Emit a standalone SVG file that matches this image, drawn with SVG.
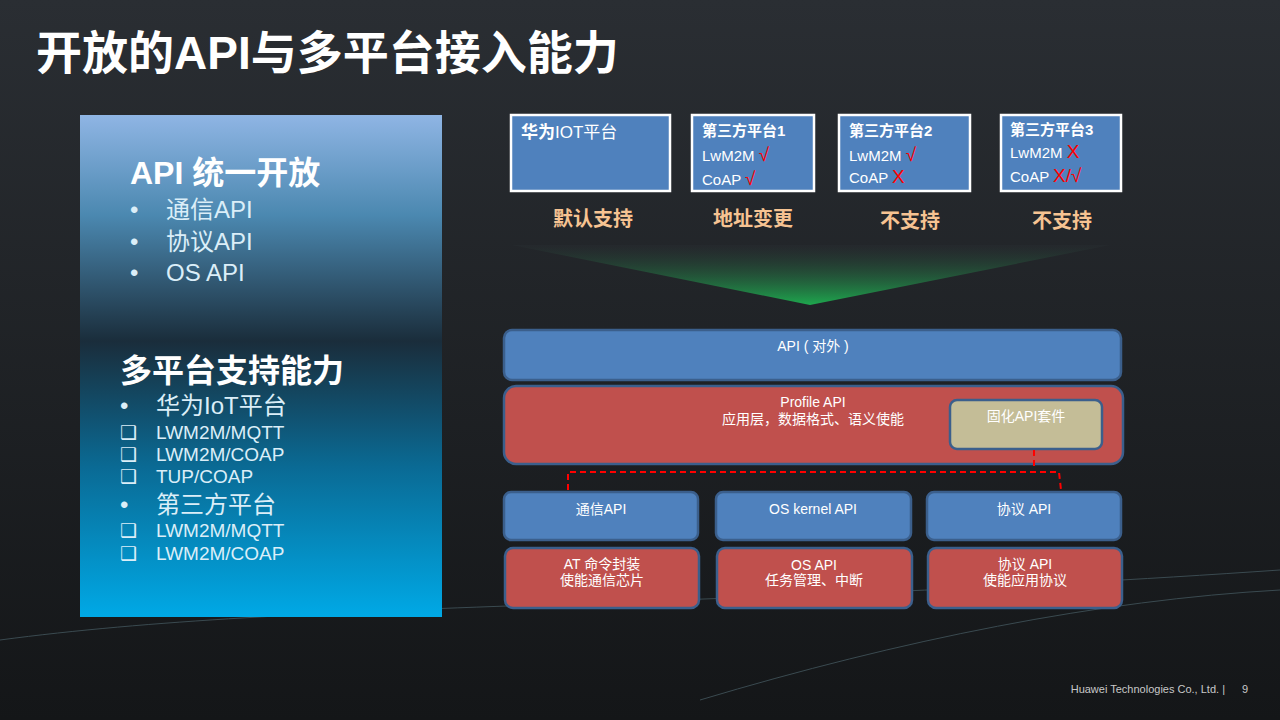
<svg xmlns="http://www.w3.org/2000/svg" width="1280" height="720" viewBox="0 0 1280 720">
<defs>
<linearGradient id="bg" x1="0" y1="0" x2="0" y2="1"><stop offset="0" stop-color="#2a2e33"/><stop offset="1" stop-color="#141618"/></linearGradient>
<linearGradient id="panel" x1="0" y1="0" x2="0" y2="1"><stop offset="0" stop-color="#8fb5e4"/><stop offset="0.2" stop-color="#4b88b0"/><stop offset="0.45" stop-color="#1a2d3b"/><stop offset="0.7" stop-color="#0a6a94"/><stop offset="1" stop-color="#00a9e6"/></linearGradient>
<linearGradient id="cone" x1="0" y1="0" x2="0" y2="1"><stop offset="0" stop-color="#2a2e33" stop-opacity="0.3"/><stop offset="1" stop-color="#1ea84e"/></linearGradient>
<style>
text{font-family:"Liberation Sans","Noto Sans CJK SC",sans-serif;fill:#fff}
.top{fill:#4f81bd;stroke:#fff;stroke-width:2.5}
.blue{fill:#4f81bd;stroke:#3b5f8c;stroke-width:2.5}
.red{fill:#c0504d;stroke:#3b5f8c;stroke-width:2.5}
.lbl{font-size:20px;font-weight:bold;fill:#f6c392;text-anchor:middle}
.s{font-size:15px}
.c{font-size:14px;text-anchor:middle}
.mk{fill:#ff0000;font-size:19px}
.pl{font-size:24px;fill:#dbeef8}
.sm{font-size:19px;fill:#dbeef8}
</style>
</defs>
<rect width="1280" height="720" fill="url(#bg)"/>
<path d="M0 640 C300 600 700 610 1280 570" fill="none" stroke="#3a4a50" stroke-width="1"/>
<path d="M700 700 C900 640 1100 600 1280 590" fill="none" stroke="#3a4a50" stroke-width="1"/>
<text x="36" y="69" font-size="46" font-weight="bold">开放的API与多平台接入能力</text>
<g id="left-panel">
<rect x="80" y="115" width="362" height="502" fill="url(#panel)"/>
<text x="130" y="184" font-size="32" font-weight="bold" fill="#dbeef8">API 统一开放</text>
<text x="130" y="218" class="pl">•</text><text x="166" y="218" class="pl">通信API</text>
<text x="130" y="250" class="pl">•</text><text x="166" y="250" class="pl">协议API</text>
<text x="130" y="281" class="pl">•</text><text x="166" y="281" class="pl">OS API</text>
<text x="120" y="382" font-size="32" font-weight="bold" fill="#dbeef8">多平台支持能力</text>
<text x="120" y="414" class="pl">•</text><text x="156" y="414" class="pl">华为IoT平台</text>
<text x="120" y="439" class="sm">❑</text><text x="156" y="439" class="sm">LWM2M/MQTT</text>
<text x="120" y="461" class="sm">❑</text><text x="156" y="461" class="sm">LWM2M/COAP</text>
<text x="120" y="483" class="sm">❑</text><text x="156" y="483" class="sm">TUP/COAP</text>
<text x="120" y="513" class="pl">•</text><text x="156" y="513" class="pl">第三方平台</text>
<text x="120" y="537" class="sm">❑</text><text x="156" y="537" class="sm">LWM2M/MQTT</text>
<text x="120" y="560" class="sm">❑</text><text x="156" y="560" class="sm">LWM2M/COAP</text>
</g>
<g id="huawei">
<rect class="top" x="511" y="115" width="159" height="76"/>
<text x="521" y="138" font-size="17"><tspan font-weight="bold">华为</tspan>IOT平台</text>
</g>
<g id="p1">
<rect class="top" x="692" y="115" width="122" height="76"/>
<text x="702" y="136" font-size="15" font-weight="bold">第三方平台1</text>
<text x="702" y="161" class="s">LwM2M <tspan class="mk">√</tspan></text>
<text x="702" y="185" class="s">CoAP <tspan class="mk">√</tspan></text>
</g>
<g id="p2">
<rect class="top" x="839" y="115" width="131" height="76"/>
<text x="849" y="136" font-size="15" font-weight="bold">第三方平台2</text>
<text x="849" y="161" class="s">LwM2M <tspan class="mk">√</tspan></text>
<text x="849" y="183" class="s">CoAP <tspan class="mk">X</tspan></text>
</g>
<g id="p3">
<rect class="top" x="1001" y="115" width="120" height="76"/>
<text x="1010" y="135" font-size="15" font-weight="bold">第三方平台3</text>
<text x="1010" y="158" class="s">LwM2M <tspan class="mk">X</tspan></text>
<text x="1010" y="182" class="s">CoAP <tspan class="mk">X/√</tspan></text>
</g>
<text x="593" y="226" class="lbl">默认支持</text>
<text x="753" y="226" class="lbl">地址变更</text>
<text x="910" y="228" class="lbl">不支持</text>
<text x="1062" y="228" class="lbl">不支持</text>
<polygon points="512,245 1110,245 810,305" fill="url(#cone)"/>
<g id="api"><rect class="blue" x="504" y="330" width="617" height="50" rx="8"/><text x="813" y="351" class="c">API ( 对外 )</text></g>
<g id="profile"><rect class="red" x="504" y="386" width="619" height="78" rx="12"/><text x="813" y="407" class="c">Profile API</text><text x="813" y="424" class="c">应用层，数据格式、语义使能</text></g>
<g id="kit"><rect x="950" y="400" width="152" height="49" rx="7" fill="#c4bd97" stroke="#3b5f8c" stroke-width="2.5"/><text x="1026" y="421" class="c" font-size="15">固化API套件</text></g>
<g id="connectors"><path d="M1034 450 V470 M568 490 V472 H1059 L1061 490" fill="none" stroke="#ff0000" stroke-width="2" stroke-dasharray="6,4"/></g>
<g id="comm"><rect class="blue" x="504" y="492" width="194" height="48" rx="7"/><text x="601" y="514" class="c">通信API</text></g>
<g id="kernel"><rect class="blue" x="716" y="492" width="195" height="48" rx="7"/><text x="813" y="514" class="c">OS kernel API</text></g>
<g id="proto"><rect class="blue" x="927" y="492" width="194" height="48" rx="7"/><text x="1024" y="514" class="c">协议 API</text></g>
<g id="at"><rect class="red" x="505" y="548" width="194" height="60" rx="8"/><text x="602" y="569" class="c">AT 命令封装</text><text x="602" y="585" class="c">使能通信芯片</text></g>
<g id="os"><rect class="red" x="717" y="548" width="195" height="60" rx="8"/><text x="814" y="570" class="c">OS API</text><text x="814" y="585" class="c">任务管理、中断</text></g>
<g id="protoapi"><rect class="red" x="928" y="548" width="194" height="60" rx="8"/><text x="1025" y="569" class="c">协议 API</text><text x="1025" y="585" class="c">使能应用协议</text></g>
<text x="1225" y="693" font-size="11" text-anchor="end" style="fill:#c8c8c8">Huawei Technologies Co., Ltd.  |</text>
<text x="1242" y="693" font-size="11" style="fill:#c8c8c8">9</text>
</svg>
